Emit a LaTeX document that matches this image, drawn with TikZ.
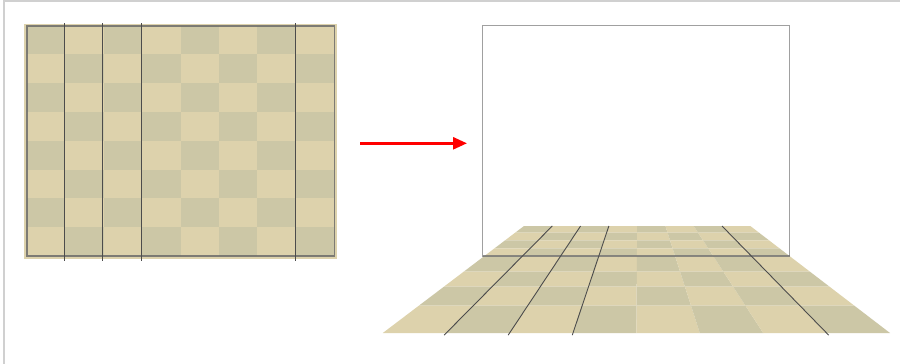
\documentclass[tikz,border=0pt]{standalone}
\usetikzlibrary{calc,arrows.meta}
\definecolor{tanL}{RGB}{221,210,172}
\definecolor{tanD}{RGB}{204,199,166}
\definecolor{frameG}{RGB}{208,208,208}
\definecolor{wallG}{RGB}{160,160,160}
\tikzset{
  gridline/.style={draw=black!70, line width=0.9pt},
  boardframe/.style={draw=black!60, line width=1.6pt},
  wallframe/.style={draw=wallG, line width=1pt},
  arrowred/.style={draw=red, line width=2.6pt, -{Triangle[length=14pt,width=12pt]}},
}
\begin{document}
\begin{tikzpicture}[x=1pt,y=-1pt]
\useasboundingbox (0,0) rectangle (900,364);
\fill[white] (0,0) rectangle (900,364);
% image frame (top and left)
\draw[frameG, line width=2pt] (3.7,364) -- (3.7,1) -- (900,1);

% ---------- left board ----------
\fill[tanL] (23.5,23.5) rectangle (337,258.5);
\foreach \i in {0,...,7}{
  \foreach \j in {0,...,7}{
    \pgfmathsetmacro\xa{26.7+\j*38.45}
    \pgfmathsetmacro\xb{26.7+(\j+1)*38.45}
    \pgfmathsetmacro\ya{25.7+\i*28.79}
    \pgfmathsetmacro\yb{25.7+(\i+1)*28.79}
    \pgfmathtruncatemacro\parity{mod(\i+\j,2)}
    \ifnum\parity=0
      \fill[tanD] (\xa,\ya) rectangle (\xb,\yb);
    \else
      \fill[tanL] (\xa,\ya) rectangle (\xb,\yb);
    \fi
  }
}
\draw[boardframe, draw opacity=0.8] (26.7,25.7) rectangle (334.3,256);
\foreach \k/\x in {a/64.3,b/102.7,c/141.7,d/295.3}{
  \coordinate (bt\k) at (\x,23);
  \coordinate (bb\k) at (\x,261);
  \draw[gridline] (bt\k) -- (bb\k);
}

% ---------- arrow ----------
\coordinate (arrS) at (360,143.3);
\coordinate (arrE) at (467,143.3);
\draw[arrowred] (arrS) -- (arrE);

% ---------- wall ----------
\coordinate (WTL) at (482.7,25.7);
\coordinate (WBR) at (789.6,256);
\draw[wallframe] (WTL) rectangle (WBR);

% ---------- floor ----------
\coordinate (TL) at (524,226);
\coordinate (TR) at (750.3,226);
\coordinate (BL) at (382.8,333);
\coordinate (BR) at (890,333);
\foreach \r/\f in {0/0,1/0.0626,2/0.1346,3/0.2093,4/0.2804,5/0.4271,6/0.5664,7/0.7430,8/1}{
  \coordinate (L\r) at ($(TL)!\f!(BL)$);
  \coordinate (R\r) at ($(TR)!\f!(BR)$);
}
\foreach \i in {0,...,7}{
  \foreach \j in {0,...,7}{
    \pgfmathtruncatemacro\ni{\i+1}
    \pgfmathsetmacro\ta{\j/8}
    \pgfmathsetmacro\tb{(\j+1)/8}
    \pgfmathtruncatemacro\parity{mod(\i+\j,2)}
    \ifnum\parity=0 \def\cc{tanD}\else\def\cc{tanL}\fi
    \fill[\cc] ($(L\i)!\ta!(R\i)$) -- ($(L\i)!\tb!(R\i)$) --
      ($(L\ni)!\tb!(R\ni)$) -- ($(L\ni)!\ta!(R\ni)$) -- cycle;
  }
}
\draw[black!55, line width=1.4pt, draw opacity=0.8] (482.7,256) -- (789.6,256);
\foreach \k in {1,2,3,7}{
  \pgfmathsetmacro\t{\k/8}
  \coordinate (ft\k) at ($(L0)!\t!(R0)$);
  \coordinate (fb\k) at ($(L8)!\t!(R8)$);
  \draw[gridline] (ft\k) -- ($(ft\k)!1.02!(fb\k)$);
}
\end{tikzpicture}
\end{document}
